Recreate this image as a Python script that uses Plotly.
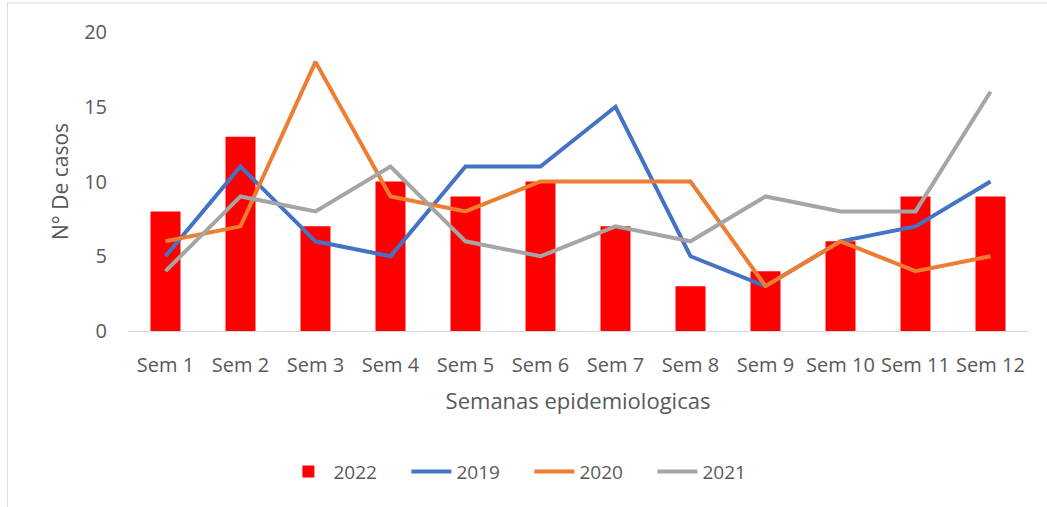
import plotly.graph_objects as go

weeks = ["Sem 1", "Sem 2", "Sem 3", "Sem 4", "Sem 5", "Sem 6", "Sem 7", "Sem 8", "Sem 9", "Sem 10", "Sem 11", "Sem 12"]
y2022 = [8, 13, 7, 10, 9, 10, 7, 3, 4, 6, 9, 9]
y2019 = [5, 11, 6, 5, 11, 11, 15, 5, 3, 6, 7, 10]
y2020 = [6, 7, 18, 9, 8, 10, 10, 10, 3, 6, 4, 5]
y2021 = [4, 9, 8, 11, 6, 5, 7, 6, 9, 8, 8, 16]

font_family = "'Open Sans', sans-serif"
txt = "#595959"

fig = go.Figure()
fig.add_trace(go.Bar(x=weeks, y=y2022, name="2022", marker=dict(color="#FF0000", line=dict(width=0))))
fig.add_trace(go.Scatter(x=weeks, y=y2019, name="2019", mode="lines", line=dict(color="#4472C4", width=4)))
fig.add_trace(go.Scatter(x=weeks, y=y2020, name="2020", mode="lines", line=dict(color="#ED7D31", width=4)))
fig.add_trace(go.Scatter(x=weeks, y=y2021, name="2021", mode="lines", line=dict(color="#A5A5A5", width=4)))

fig.update_layout(
    width=1047, height=507,
    margin=dict(l=128, r=19, t=32, b=176),
    paper_bgcolor="white", plot_bgcolor="white",
    font=dict(family=font_family, color=txt, size=20),
    bargap=0.6,
    showlegend=True,
    legend=dict(orientation="h", x=0.446, xanchor="center", y=-0.47, yanchor="middle",
                font=dict(size=19, color=txt), traceorder="normal",
                entrywidth=68, entrywidthmode="pixels", itemwidth=40),
    shapes=[dict(type="rect", xref="paper", yref="paper", x0=-0.134, x1=1.1, y0=-0.65, y1=1.097,
                 line=dict(color="#D9D9D9", width=1), fillcolor="rgba(0,0,0,0)", layer="below")],
)
fig.update_xaxes(showline=True, linecolor="#D9D9D9", linewidth=1, showgrid=False, ticks="",
                 tickfont=dict(size=20, color=txt), ticklabelstandoff=16,
                 title=dict(text="Semanas epidemiologicas", font=dict(size=22, color=txt), standoff=16))
fig.update_yaxes(range=[0, 20], dtick=5, showgrid=False, showline=False, zeroline=False, ticks="",
                 tickfont=dict(size=20, color=txt), ticklabelstandoff=20,
                 title=dict(text="N° De casos", font=dict(size=21, color=txt), standoff=9))

fig.write_html("out.html", config={"displayModeBar": False},
               post_script="document.body.style.margin='0';")
